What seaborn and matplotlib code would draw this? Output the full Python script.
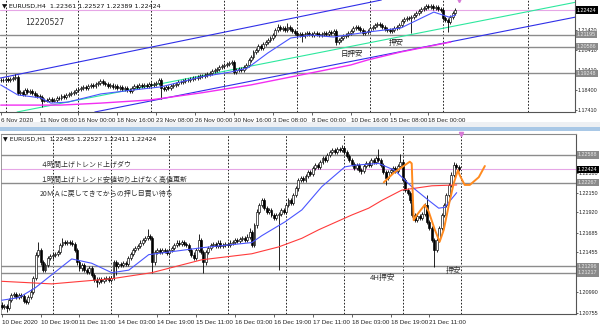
import numpy as np
import pandas as pd
import matplotlib
matplotlib.use("Agg")
import matplotlib.pyplot as plt
from matplotlib.patches import Rectangle
from matplotlib.transforms import blended_transform_factory
from matplotlib.ticker import FormatStrFormatter
import seaborn as sns

sns.set_style("white")
plt.rcParams['font.family'] = ['Liberation Sans Narrow', 'Liberation Sans', 'DejaVu Sans',
                               'Noto Sans CJK JP']
JP = ['Noto Sans CJK JP', 'DejaVu Sans']

# ---------------- H4 panel data ----------------
h4_close = [
    1.1892, 1.1892, 1.1897, 1.1892, 1.1897, 1.1902, 1.1907, 1.1827, 1.1832, 1.1822,
    1.1842, 1.1832, 1.1837, 1.1827, 1.1817, 1.1812, 1.1807, 1.1787, 1.1792, 1.1787,
    1.1797, 1.1787, 1.1792, 1.1802, 1.1802, 1.1812, 1.1807, 1.1817, 1.1822, 1.1827,
    1.1832, 1.1842, 1.1847, 1.1852, 1.1857, 1.1852, 1.1862, 1.1867, 1.1862, 1.1872,
    1.1877, 1.1887, 1.1877, 1.1872, 1.1862, 1.1867, 1.1857, 1.1862, 1.1852, 1.1857,
    1.1847, 1.1852, 1.1842, 1.1837, 1.1852, 1.1862, 1.1857, 1.1867, 1.1862, 1.1867,
    1.1862, 1.1872, 1.1867, 1.1872, 1.1877, 1.1892, 1.1852, 1.1847, 1.1857, 1.1852,
    1.1862, 1.1867, 1.1872, 1.1882, 1.1882, 1.1887, 1.1892, 1.1892, 1.1897, 1.1902,
    1.1902, 1.1907, 1.1912, 1.1912, 1.1917, 1.1922, 1.1927, 1.1937, 1.1942, 1.1947,
    1.1957, 1.1962, 1.1967, 1.1972, 1.1977, 1.1982, 1.1932, 1.1942, 1.1947, 1.1942,
    1.1957, 1.1967, 1.1992, 1.2007, 1.2032, 1.2042, 1.2062, 1.2052, 1.2072, 1.2082,
    1.2092, 1.2102, 1.2117, 1.2142, 1.2157, 1.2147, 1.2152, 1.2142, 1.2157, 1.2147,
    1.2137, 1.2127, 1.2117, 1.2122, 1.2112, 1.2122, 1.2127, 1.2122, 1.2117, 1.2127,
    1.2122, 1.2117, 1.2122, 1.2127, 1.2122, 1.2132, 1.2127, 1.2137, 1.2082, 1.2092,
    1.2102, 1.2112, 1.2117, 1.2127, 1.2137, 1.2152, 1.2157, 1.2152, 1.2142, 1.2127,
    1.2132, 1.2137, 1.2152, 1.2157, 1.2167, 1.2172, 1.2167, 1.2157, 1.2147, 1.2142,
    1.2137, 1.2142, 1.2152, 1.2157, 1.2167, 1.2187, 1.2197, 1.2202, 1.2202, 1.2207,
    1.2217, 1.2227, 1.2237, 1.2247, 1.2252, 1.2262, 1.2257, 1.2262, 1.2252, 1.2257,
    1.2247, 1.2242, 1.2202, 1.2192, 1.2182, 1.2207, 1.2227, 1.2242]
h4_first_open = 1.1890
h4_high_spikes = {6: 1.1922, 41: 1.1897, 65: 1.1902, 95: 1.1992, 114: 1.2172,
                  118: 1.2177, 137: 1.2142, 175: 1.2272}
h4_low_spikes = {7: 1.1817, 17: 1.1756, 53: 1.1827, 66: 1.1797, 96: 1.1922,
                 124: 1.2082, 138: 1.2067, 169: 1.2127, 184: 1.2132}
h4_ma_bar = [0, 7, 16.5, 20.6, 27.6, 41.2, 54.7, 65.8, 82.3, 94.7, 101.6, 109.9,
             119.3, 127.6, 137, 151, 164.6, 178.2, 184.4, 187.2]
h4_ma_val = [1.1867, 1.1817, 1.1802, 1.1776, 1.1781, 1.1822, 1.1842, 1.1857, 1.1907,
             1.1932, 1.1952, 1.2027, 1.2102, 1.2117, 1.2107, 1.2132, 1.2152, 1.2232,
             1.2207, 1.2217]
h4_ma200_bar = [0, 24.7, 41.2, 61.7, 82.3, 102.9, 123.5, 144, 151, 164.6, 185.2]
h4_ma200_val = [1.1766, 1.1766, 1.1776, 1.1792, 1.1827, 1.1867, 1.1917, 1.1967,
                1.1992, 1.2032, 1.2082]
h4_upper_line = ([0, 150], [1.1902, 1.2276])
h4_lower_line = ([66, 180], [1.1797, 1.2071])
h4_green_line = ([17, 180], [1.1756, 1.2146])
h4_hlines = [1.21195, 1.20586, 1.19248]
h4_price = 1.22424
h4_yticks = [1.21420, 1.20410, 1.19410, 1.18400, 1.17410]
h4_tick_bars = [0, 16, 32, 48, 64, 80, 96, 112, 128, 144, 160, 176]
h4_tick_labels = ["6 Nov 2020", "11 Nov 08:00", "16 Nov 00:00", "18 Nov 16:00",
                  "23 Nov 08:00", "26 Nov 00:00", "30 Nov 16:00", "3 Dec 08:00",
                  "8 Dec 00:00", "10 Dec 16:00", "15 Dec 08:00", "18 Dec 00:00"]
h4_separators = [2, 32, 62, 92, 122, 152, 182, 217]

# ---------------- H1 panel data ----------------
h1_close = [
    1.2082, 1.2083, 1.2081, 1.2090, 1.2096, 1.2097, 1.2094, 1.2096, 1.2095, 1.2089,
    1.2088, 1.2094, 1.2100, 1.2116, 1.2143, 1.2148, 1.2134, 1.2125, 1.2131, 1.2139,
    1.2141, 1.2143, 1.2144, 1.2146, 1.2154, 1.2158, 1.2157, 1.2158, 1.2157, 1.2155,
    1.2148, 1.2134, 1.2127, 1.2131, 1.2125, 1.2123, 1.2127, 1.2119, 1.2114, 1.2111,
    1.2115, 1.2112, 1.2115, 1.2116, 1.2114, 1.2116, 1.2134, 1.2130, 1.2132, 1.2131,
    1.2133, 1.2132, 1.2139, 1.2144, 1.2148, 1.2151, 1.2153, 1.2157, 1.2160, 1.2162,
    1.2165, 1.2162, 1.2134, 1.2146, 1.2148, 1.2146, 1.2148, 1.2147, 1.2145, 1.2148,
    1.2151, 1.2154, 1.2157, 1.2155, 1.2158, 1.2155, 1.2154, 1.2148, 1.2143, 1.2139,
    1.2148, 1.2160, 1.2146, 1.2134, 1.2146, 1.2151, 1.2154, 1.2155, 1.2153, 1.2157,
    1.2153, 1.2154, 1.2155, 1.2154, 1.2157, 1.2158, 1.2160, 1.2159, 1.2161, 1.2162,
    1.2160, 1.2164, 1.2169, 1.2154, 1.2177, 1.2193, 1.2201, 1.2206, 1.2197, 1.2193,
    1.2195, 1.2189, 1.2186, 1.2189, 1.2190, 1.2195, 1.2193, 1.2201, 1.2206, 1.2203,
    1.2212, 1.2220, 1.2230, 1.2232, 1.2230, 1.2234, 1.2239, 1.2237, 1.2244, 1.2247,
    1.2245, 1.2251, 1.2255, 1.2253, 1.2259, 1.2262, 1.2265, 1.2262, 1.2266, 1.2265,
    1.2267, 1.2262, 1.2258, 1.2253, 1.2248, 1.2244, 1.2247, 1.2241, 1.2240, 1.2246,
    1.2249, 1.2247, 1.2253, 1.2251, 1.2255, 1.2253, 1.2247, 1.2239, 1.2232, 1.2239,
    1.2241, 1.2244, 1.2240, 1.2246, 1.2251, 1.2230, 1.2218, 1.2215, 1.2206, 1.2189,
    1.2183, 1.2188, 1.2186, 1.2190, 1.2201, 1.2181, 1.2174, 1.2160, 1.2148, 1.2160,
    1.2174, 1.2189, 1.2201, 1.2212, 1.2224, 1.2236, 1.2247, 1.2245, 1.2243]
h1_first_open = 1.2085
h1_high_spikes = {15: 1.2158, 25: 1.2162, 60: 1.2173, 81: 1.2167, 102: 1.2174,
                  140: 1.2270, 155: 1.2266, 164: 1.2260, 175: 1.2212, 186: 1.2251}
h1_low_spikes = {2: 1.2076, 39: 1.2105, 47: 1.2119, 62: 1.2122, 83: 1.2122,
                 114: 1.2125, 148: 1.2237, 158: 1.2224, 178: 1.2129}
h1_ma_bar = [0, 7, 13.6, 28.8, 37, 45.3, 52.3, 60.5, 68.7, 82.3, 102.9, 107, 116.5,
             123.5, 131.7, 141.2, 145.3, 155.1, 161.7, 168.7, 175.7, 179.8, 182.3, 187.2]
h1_ma_val = [1.2090, 1.2093, 1.2104, 1.2138, 1.2133, 1.2122, 1.2125, 1.2143, 1.2146,
             1.2151, 1.2157, 1.2165, 1.2181, 1.2195, 1.2222, 1.2245, 1.2247, 1.2249,
             1.2241, 1.2222, 1.2206, 1.2197, 1.2198, 1.2215]
h1_ma200_bar = [0, 20.6, 45.3, 61.7, 82.3, 102.9, 114, 123.5, 130.5, 144, 151, 156.4,
                164.6, 177, 187.2]
h1_ma200_val = [1.2112, 1.2109, 1.2115, 1.2122, 1.2137, 1.2144, 1.2152, 1.2162, 1.2172,
                1.2189, 1.2197, 1.2206, 1.2218, 1.2223, 1.2224]
orange_bar = [157.2, 161.3, 167.9, 168.7, 169.5, 170.8, 174.1, 175.7, 178.2, 180.2,
              181.9, 184, 186, 187.7, 188.5, 190.5, 192.6, 196.3, 198.8]
orange_val = [1.2227, 1.2238, 1.2251, 1.2249, 1.2183, 1.2189, 1.2201, 1.2193, 1.2172,
              1.2158, 1.2172, 1.2201, 1.2226, 1.2241, 1.2235, 1.2224, 1.2224, 1.2233,
              1.2246]
h1_hlines = [1.22588, 1.22267, 1.21296, 1.21217]
h1_price = 1.22424
h1_yticks = [1.22380, 1.22150, 1.21920, 1.21685, 1.21455, 1.21225, 1.20990, 1.20755]
h1_tick_bars = [0, 16, 32, 48, 64, 80, 96, 112, 128, 144, 160, 176]
h1_tick_labels = ["10 Dec 2020", "10 Dec 19:00", "11 Dec 11:00", "14 Dec 03:00",
                  "14 Dec 19:00", "15 Dec 11:00", "16 Dec 03:00", "16 Dec 19:00",
                  "17 Dec 11:00", "18 Dec 03:00", "18 Dec 19:00", "21 Dec 11:00"]
h1_separators = [21, 45, 69, 93, 117, 141, 165, 189]

# ---------------- figure ----------------
W, H = 600, 325
fig = plt.figure(figsize=(6, 3.25), dpi=100)
fig.patch.set_facecolor('white')


def px_axes(l, t, r, b):
    return fig.add_axes([l / W, 1 - b / H, (r - l) / W, (b - t) / H])


ax1 = px_axes(0, 0, 575, 112)
ax2 = px_axes(1, 134, 576, 314)

# window separator strip
fig.patches.append(Rectangle((0, 1 - 127 / H), 1, 5 / H, transform=fig.transFigure,
                             fc='#eef0f3', ec='none', zorder=0))
fig.patches.append(Rectangle((0, 1 - 131 / H), 1, 4 / H, transform=fig.transFigure,
                             fc='#a9c8e6', ec='none', zorder=0))


def candles(ax, close, first_open, hi_sp, lo_sp, wick):
    c = np.array(close)
    o = np.r_[first_open, c[:-1]]
    x = np.arange(len(c))
    hi = np.maximum(o, c) + wick
    lo = np.minimum(o, c) - wick
    for k, v in hi_sp.items():
        hi[k] = max(hi[k], v)
    for k, v in lo_sp.items():
        lo[k] = min(lo[k], v)
    ax.vlines(x, lo, hi, color='black', lw=0.6, zorder=3)
    b = np.minimum(o, c)
    h = np.maximum(np.abs(c - o), wick * 0.15)
    up = c >= o
    ax.bar(x[up], h[up], bottom=b[up], width=0.8, color='white', edgecolor='black',
           linewidth=0.45, zorder=4)
    ax.bar(x[~up], h[~up], bottom=b[~up], width=0.8, color='black', edgecolor='black',
           linewidth=0.45, zorder=4)


def style_axis(ax, ylim, yticks, tick_bars, tick_labels):
    ax.set_xlim(-0.3, 236.3)
    ax.set_ylim(*ylim)
    ax.yaxis.tick_right()
    ax.set_yticks(yticks)
    ax.yaxis.set_major_formatter(FormatStrFormatter('%.5f'))
    ax.set_xticks(tick_bars)
    ax.set_xticklabels(tick_labels)
    for lbl in ax.get_xticklabels():
        lbl.set_horizontalalignment('left')
    ax.tick_params(axis='y', labelsize=3.9, length=1.5, width=0.5, pad=0.6,
                   colors='#222222', right=True, left=False)
    ax.tick_params(axis='x', labelsize=4.5, length=2.5, width=0.5, pad=1.5,
                   colors='#222222', bottom=True)
    ax.set_xlabel('')
    ax.set_ylabel('')
    for s in ax.spines.values():
        s.set_linewidth(0.8)
        s.set_color('#555555')


def price_box(ax, value, fc, tc):
    tr = blended_transform_factory(ax.transAxes, ax.transData)
    ax.text(1.0035, value, f"{value:.5f}", transform=tr, ha='left', va='center',
            fontsize=3.9, color=tc, clip_on=False, zorder=20,
            bbox=dict(boxstyle='square,pad=0.2', fc=fc, ec='none'))


def line(ax, xs, ys, color, lw):
    sns.lineplot(x=xs, y=ys, ax=ax, color=color, linewidth=lw, sort=False,
                 estimator=None, legend=False, zorder=5)


# ---------------- top panel (H4) ----------------
ylim1 = (1.17314, 1.22925)
for s in h4_separators:
    ax1.axvline(s, color='black', lw=0.6, ls=(0, (2, 2)), zorder=1)
for v in h4_hlines:
    ax1.axhline(v, color='#8c8c8c', lw=1.0, zorder=1)
ax1.axhline(h4_price, color='#e6a6e6', lw=0.8, zorder=1)
ax1.axline((h4_upper_line[0][0], h4_upper_line[1][0]),
           (h4_upper_line[0][1], h4_upper_line[1][1]), color='#2f2fe8', lw=0.8, zorder=2)
ax1.axline((h4_lower_line[0][0], h4_lower_line[1][0]),
           (h4_lower_line[0][1], h4_lower_line[1][1]), color='#2f2fe8', lw=0.8, zorder=2)
ax1.axline((h4_green_line[0][0], h4_green_line[1][0]),
           (h4_green_line[0][1], h4_green_line[1][1]), color='#2de89e', lw=0.8, zorder=2)
line(ax1, h4_ma200_bar, h4_ma200_val, '#f22ef2', 1.0)
candles(ax1, h4_close, h4_first_open, h4_high_spikes, h4_low_spikes, 0.0008)
line(ax1, h4_ma_bar, h4_ma_val, '#4a55ff', 0.8)
style_axis(ax1, ylim1, h4_yticks, h4_tick_bars, h4_tick_labels)
ax1.spines['top'].set_visible(False)
ax1.spines['left'].set_visible(False)
for v in h4_hlines:
    price_box(ax1, v, '#8a8a8a', '#e8e8e8')
price_box(ax1, h4_price, '#000000', '#ffffff')
ax1.plot([188.5], [ylim1[1]], marker='v', ms=3, color='#d77ad7', clip_on=False, zorder=6)
ax1.text(0.004, 0.975, "\u25BC EURUSD,H4  1.22361 1.22527 1.22389 1.22424",
         transform=ax1.transAxes, fontsize=4.6, va='top', ha='left', color='#111111',
         family=['DejaVu Sans'])
ax1.text(0.043, 0.80, "12220527", transform=ax1.transAxes, fontsize=5.6,
         va='center', ha='left', color='#333333', family=['DejaVu Sans'])
ax1.text(140, 1.2022, "日押安", fontsize=5.4, family=JP, color='#222222',
         va='center', ha='left', zorder=8)
ax1.text(159.7, 1.2075, "押安", fontsize=5.4, family=JP, color='#222222',
         va='center', ha='left', zorder=8)

# ---------------- bottom panel (H1) ----------------
ylim2 = (1.20740, 1.22832)
for s in h1_separators:
    ax2.axvline(s, color='black', lw=0.6, ls=(0, (2, 2)), zorder=1)
for v in h1_hlines:
    ax2.axhline(v, color='#8c8c8c', lw=1.0, zorder=1)
ax2.axhline(h1_price, color='#e6a6e6', lw=0.8, zorder=1)
line(ax2, h1_ma200_bar, h1_ma200_val, '#ff3b3b', 0.8)
line(ax2, h1_ma_bar, h1_ma_val, '#4a55ff', 0.8)
candles(ax2, h1_close, h1_first_open, h1_high_spikes, h1_low_spikes, 0.00025)
line(ax2, orange_bar, orange_val, '#ff8a1e', 1.4)
style_axis(ax2, ylim2, h1_yticks, h1_tick_bars, h1_tick_labels)
ax2.spines['top'].set_color('#8a8a8a')
ax2.spines['left'].set_color('#8a8a8a')
ax2.spines['left'].set_linewidth(0.6)
for v in h1_hlines:
    price_box(ax2, v, '#8a8a8a', '#e8e8e8')
price_box(ax2, h1_price, '#000000', '#ffffff')
ax2.plot([189], [ylim2[1]], marker='v', ms=3, color='#d77ad7', clip_on=False, zorder=6)
ax2.text(0.004, 1 - 5 / 180, "\u25BC EURUSD,H1  1.22485 1.22527 1.22411 1.22424",
         transform=ax2.transAxes, fontsize=4.4, va='center', ha='left', color='#111111',
         family=['DejaVu Sans'])
notes = ["４時間上げトレンド上げダウ",
         "１時間上げトレンド安値切り上げなく高値更新",
         "20ＭＡに戻してきてからの押し目買い待ち"]
for t, ypx in zip(notes, [165, 180, 194]):
    fig.text(40 / W, 1 - ypx / H, t, fontsize=5.0, family=JP, color='#333333',
             va='center', ha='left')
ax2.text(151.4, 1.2116, "4H押安", fontsize=5.6, family=JP, color='#333333',
         va='center', ha='left', zorder=8)
ax2.text(182.7, 1.2124, "押安", fontsize=5.6, family=JP, color='#333333',
         va='center', ha='left', zorder=8)

fig.savefig("out.png", dpi=100, facecolor='white')
